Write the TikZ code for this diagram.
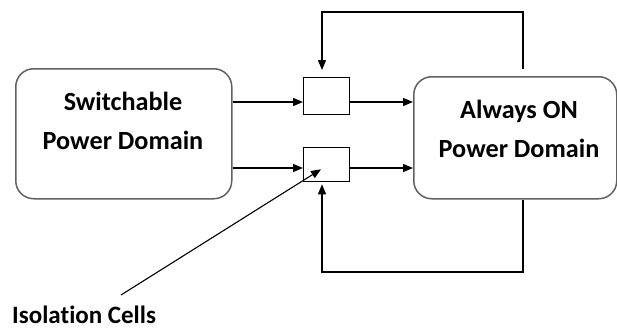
\documentclass[tikz,border=0pt]{standalone}
\usepackage{fontspec}
\setmainfont{Carlito}[Ligatures=NoCommon]
\usetikzlibrary{arrows.meta,calc}
\begin{document}
\begin{tikzpicture}[x=1pt,y=-1pt,
  bigbox/.style={draw=black!62,line width=1.5pt,rounded corners=18pt,inner sep=0pt,anchor=north west},
  isobox/.style={draw=black,line width=1.3pt,inner sep=0pt,anchor=north west,minimum width=46pt},
  txt/.style={inner sep=0pt,align=center,font=\bfseries\fontsize{26.2}{39}\selectfont},
  lbl/.style={inner sep=0pt,font=\bfseries\fontsize{25}{30}\selectfont},
  wire/.style={draw=black,line width=1.3pt},
  arr/.style={wire,-{Triangle[length=10pt,width=8pt]}}]
\path[use as bounding box] (0,0) rectangle (617,329);
% boxes
\node[bigbox,minimum width=216pt,minimum height=130pt] (sw) at (15,68) {};
\node[bigbox,minimum width=203pt,minimum height=122pt] (ao) at (413,76) {};
\node[isobox,minimum height=37pt] (iso1) at (303,77) {};
\node[isobox,minimum height=34pt] (iso2) at (303,147) {};
% texts
\node[txt] (swt) at (123,121) {Switchable\\Power Domain};
\node[txt] (aot) at (519,129) {Always ON\\Power Domain};
\node[lbl,anchor=base west] (isot) at (12,323) {Isolation Cells};
% signal levels
\coordinate (ya) at (0,102);
\coordinate (yb) at (0,168);
\draw[arr] (sw.east|-ya) -- (iso1.west|-ya);
\draw[arr] (iso1.east|-ya) -- (ao.west|-ya);
\draw[arr] (sw.east|-yb) -- (iso2.west|-yb);
\draw[arr] (iso2.east|-yb) -- (ao.west|-yb);
% feedback loops
\coordinate (fx) at (523,0);
\coordinate (ix) at (322,0);
\coordinate (fbtop) at (0,12);
\coordinate (fbbot) at (0,272);
\draw[arr] ($(ao.north-|fx)+(0,-7)$) -- (fx|-fbtop) -- (ix|-fbtop) -- ($(iso1.north-|ix)+(0,-7)$);
\draw[arr] (ao.south-|fx) -- (fx|-fbbot) -- (ix|-fbbot) -- ($(iso2.south-|ix)+(0,2)$);
% isolation pointer
\coordinate (ptr) at (121,295);
\draw[wire,line width=1.1pt,-{Triangle[length=10pt,width=8pt]}] (ptr) -- ($(iso2.south west)+(18,-13)$);
\end{tikzpicture}
\end{document}
